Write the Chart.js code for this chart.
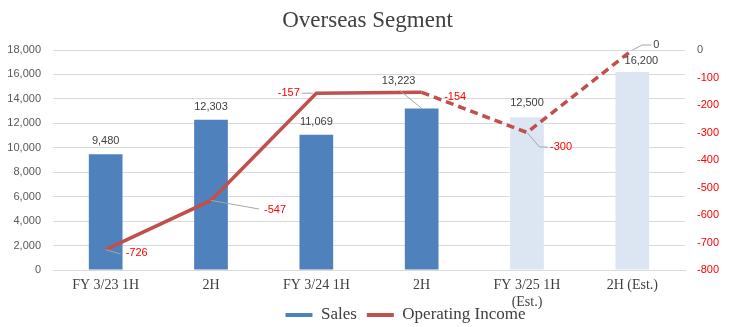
<!DOCTYPE html>
<html>
<head>
<meta charset="utf-8">
<script src="https://cdn.jsdelivr.net/npm/chart.js@4"></script>
<style>
  html, body { margin: 0; padding: 0; background: #fff; }
</style>
</head>
<body>
<canvas id="segChart" width="735" height="327"></canvas>
<script>
// --- Data ---
const categories = ['FY 3/23 1H', '2H', 'FY 3/24 1H', '2H', ['FY 3/25 1H', '(Est.)'], '2H (Est.)'];
const sales = [9480, 12303, 11069, 13223, 12500, 16200];
const operatingIncome = [-726, -547, -157, -154, -300, 0];
const salesTicks = [0, 2000, 4000, 6000, 8000, 10000, 12000, 14000, 16000, 18000];
const incomeTicks = [-800, -700, -600, -500, -400, -300, -200, -100, 0];

// --- Styles ---
const BLUE = '#4F81BD';
const LIGHT_BLUE = '#DCE6F2';
const LINE_RED = '#C0504D';
const RED = '#FF0000';
const GRID = '#D9D9D9';
const TEXT = '#404040';
const SANS = '"Liberation Sans", Arial, sans-serif';
const SERIF = '"Liberation Serif", "Times New Roman", serif';

const barColors = sales.map((v, i) => i >= 4 ? LIGHT_BLUE : BLUE);

// label offsets (px) relative to bar top / line point
const barLabelPos = [
    { dx: 0, dy: -13 }, { dx: 0, dy: -13 }, { dx: 0, dy: -13 },
    { dx: -23, dy: -27, leader: [[-22, -18], [0, 0]] },
    { dx: 0, dy: -14 },
    { dx: 9, dy: -11 }
];
const lineLabelPos = [
    { dx: 20, dy: 3.5, align: 'left', leader: [[0, 0], [15, 4.4]] },
    { dx: 53, dy: 10, align: 'left', leader: [[0, 0], [48, 8.6]] },
    { dx: -16.5, dy: 0, align: 'right', leader: [[-14.5, 0], [-3.5, 0]] },
    { dx: 22.5, dy: 4.5, align: 'left' },
    { dx: 23, dy: 14, align: 'left', leader: [[0, 0], [12.5, 14.5], [20.5, 14.5]] },
    { dx: 21, dy: -5, align: 'left', leader: [[0, 0], [10, -5], [19, -5]] }
];

function drawLeader(ctx, x, y, pts) {
    ctx.beginPath();
    pts.forEach((p, i) => {
        if (i === 0) ctx.moveTo(x + p[0], y + p[1]);
        else ctx.lineTo(x + p[0], y + p[1]);
    });
    ctx.strokeStyle = '#A6A6A6';
    ctx.lineWidth = 1;
    ctx.stroke();
}

const dataLabels = {
    id: 'dataLabels',
    afterDatasetsDraw(chart) {
        const ctx = chart.ctx;
        ctx.save();
        ctx.font = '11px ' + SANS;
        ctx.textBaseline = 'middle';

        // bar labels
        chart.getDatasetMeta(0).data.forEach((bar, i) => {
            const pos = barLabelPos[i];
            if (pos.leader) drawLeader(ctx, bar.x, bar.y, pos.leader);
            ctx.fillStyle = TEXT;
            ctx.textAlign = 'center';
            ctx.fillText(sales[i].toLocaleString('en-US'), bar.x + pos.dx, bar.y + pos.dy);
        });

        // line labels
        chart.getDatasetMeta(1).data.forEach((pt, i) => {
            const pos = lineLabelPos[i];
            if (pos.leader) drawLeader(ctx, pt.x, pt.y, pos.leader);
            ctx.fillStyle = operatingIncome[i] < 0 ? RED : TEXT;
            ctx.textAlign = pos.align;
            ctx.fillText(String(operatingIncome[i]), pt.x + pos.dx, pt.y + pos.dy);
        });
        ctx.restore();
    }
};

// let the x labels overflow into the legend band and nudge the legend like Excel does
const layoutTweak = {
    id: 'layoutTweak',
    afterLayout(chart) {
        chart.scales.x.bottom = 318;
        const lg = chart.legend;
        const h = lg.bottom - lg.top;
        lg.top = 296.5;
        lg.bottom = lg.top + h;
        lg.left += 38;
        lg.right += 38;
    }
};

new Chart(document.getElementById('segChart'), {
    data: {
        labels: categories,
        datasets: [
            {
                type: 'bar',
                label: 'Sales',
                data: sales,
                yAxisID: 'y',
                backgroundColor: barColors,
                barPercentage: 0.32,
                categoryPercentage: 1,
                order: 2
            },
            {
                type: 'line',
                label: 'Operating Income',
                data: operatingIncome,
                yAxisID: 'y2',
                borderColor: LINE_RED,
                backgroundColor: LINE_RED,
                borderWidth: 3.5,
                pointRadius: 0,
                tension: 0,
                segment: {
                    borderDash: ctx => ctx.p0DataIndex >= 3 ? [8, 5] : undefined
                },
                order: 1
            }
        ]
    },
    options: {
        responsive: false,
        animation: false,
        layout: { padding: 0 },
        plugins: {
            tooltip: { enabled: false },
            title: {
                display: true,
                text: 'Overseas Segment',
                color: TEXT,
                font: { family: SERIF, size: 23, weight: 'normal' },
                padding: { top: 7, bottom: 15.4 }
            },
            legend: {
                position: 'bottom',
                labels: {
                    color: TEXT,
                    font: { family: SERIF, size: 17 },
                    boxWidth: 27,
                    boxHeight: 4,
                    padding: 10,
                    sort: (a, b) => a.datasetIndex - b.datasetIndex,
                    generateLabels: chart => chart.data.datasets.map((ds, i) => ({
                        text: ds.label,
                        fillStyle: i === 0 ? BLUE : LINE_RED,
                        strokeStyle: i === 0 ? BLUE : LINE_RED,
                        lineWidth: 0,
                        fontColor: TEXT,
                        datasetIndex: i
                    }))
                }
            }
        },
        scales: {
            x: {
                grid: { display: false, drawTicks: false },
                border: { color: GRID, width: 1 },
                ticks: {
                    color: TEXT,
                    font: { family: SERIF, size: 14 },
                    padding: 7,
                    maxRotation: 0,
                    autoSkip: false
                },
                afterFit: scale => { scale.height = 20; }
            },
            y: {
                position: 'left',
                min: 0,
                max: 18000,
                afterBuildTicks: scale => { scale.ticks = salesTicks.map(v => ({ value: v })); },
                grid: { color: GRID, lineWidth: 1, drawTicks: false },
                border: { display: false },
                ticks: {
                    color: '#595959',
                    font: { family: SANS, size: 11 },
                    padding: 12,
                    callback: v => v.toLocaleString('en-US')
                },
                afterFit: scale => { scale.width = 53; }
            },
            y2: {
                position: 'right',
                min: -800,
                max: 0,
                afterBuildTicks: scale => { scale.ticks = incomeTicks.map(v => ({ value: v })); },
                grid: { display: false, drawTicks: false },
                border: { display: false },
                ticks: {
                    color: ctx => ctx.tick.value < 0 ? RED : '#595959',
                    font: { family: SANS, size: 11 },
                    padding: 12
                },
                afterFit: scale => { scale.width = 50; }
            }
        }
    },
    plugins: [dataLabels, layoutTweak]
});
</script>
</body>
</html>
